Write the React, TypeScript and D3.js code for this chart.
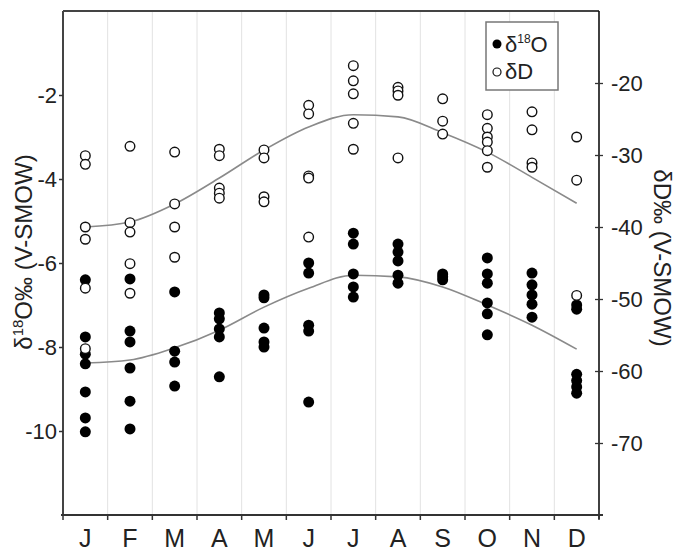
import React, { useEffect, useRef } from 'react';
import * as d3 from 'd3';

// month labels (index used as band key since letters repeat)
const months = ['J', 'F', 'M', 'A', 'M', 'J', 'J', 'A', 'S', 'O', 'N', 'D'];

// d18O values per month (left axis, permil)
const o18Values: number[][] = [
  [-6.4, -7.76, -8.17, -8.4, -9.07, -9.69, -10.02],
  [-6.38, -7.62, -7.88, -8.5, -9.29, -9.95],
  [-6.69, -8.1, -8.36, -8.93],
  [-7.19, -7.33, -7.57, -7.76, -8.71],
  [-6.76, -6.83, -7.55, -7.88, -8.0],
  [-6.0, -6.24, -7.48, -7.62, -9.31],
  [-5.29, -5.55, -6.26, -6.57, -6.81],
  [-5.55, -5.74, -5.95, -6.29, -6.48],
  [-6.26, -6.33, -6.4],
  [-5.88, -6.26, -6.48, -6.95, -7.21, -7.71],
  [-6.24, -6.52, -6.76, -6.98, -7.29],
  [-7.0, -7.1, -8.65, -8.8, -8.95, -9.1],
];

// dD values per month (right axis, permil)
const dDValues: number[][] = [
  [-30.1, -31.3, -40.0, -41.7, -48.5, -56.9],
  [-28.8, -39.4, -40.7, -45.1, -49.2],
  [-29.6, -36.8, -40.0, -44.2],
  [-29.2, -30.1, -34.6, -35.3, -36.0],
  [-29.3, -30.4, -35.8, -36.5],
  [-23.1, -24.3, -32.9, -33.2, -41.4],
  [-17.6, -19.7, -21.5, -25.6, -29.2],
  [-20.6, -21.1, -21.7, -30.4],
  [-22.2, -25.3, -27.1],
  [-24.4, -26.3, -27.5, -28.2, -29.4, -31.7],
  [-24.0, -26.5, -31.1, -31.7],
  [-27.5, -33.5, -49.5],
];

// smoothed seasonal fits
const o18Fit = [-8.38, -8.31, -8.02, -7.6, -7.05, -6.6, -6.29, -6.33, -6.57, -7.0, -7.48, -8.05];
const dDFit = [-40.0, -39.3, -36.8, -33.2, -29.3, -26.1, -24.4, -24.7, -26.9, -29.6, -33.1, -36.7];

const o18Ticks = [-10, -8, -6, -4, -2];
const dDTicks = [-70, -60, -50, -40, -30, -20];

const FONT = '"Liberation Sans", Arial, Helvetica, sans-serif';

export default function App() {
  const ref = useRef<SVGSVGElement>(null);

  useEffect(() => {
    const width = 677;
    const height = 554;
    const margin = { left: 63, right: 78, top: 11, bottom: 39 };
    const x0 = margin.left;
    const x1 = width - margin.right;
    const y0 = margin.top;
    const y1 = height - margin.bottom;

    const svg = d3.select(ref.current);
    svg.selectAll('*').remove();

    const x = d3.scaleBand<number>().domain(d3.range(12)).range([x0, x1]);
    const yL = d3.scaleLinear().domain([-12, 0]).range([y1, y0]);
    const yR = d3.scaleLinear().domain([-80, -10]).range([y1, y0]);
    const cx = (i: number) => (x(i) as number) + x.bandwidth() / 2;

    // vertical grid lines at month boundaries
    const bounds = d3.range(13).map((i) => x0 + i * x.step());
    svg.append('g')
      .selectAll('line')
      .data(bounds.slice(1, -1))
      .enter().append('line')
      .attr('x1', (d) => d).attr('x2', (d) => d)
      .attr('y1', y0).attr('y2', y1)
      .attr('stroke', '#e2e2e2')
      .attr('stroke-width', 1);

    // fit curves
    const lineL = d3.line<number>()
      .x((d, i) => cx(i))
      .y((d) => yL(d))
      .curve(d3.curveMonotoneX);
    const lineR = d3.line<number>()
      .x((d, i) => cx(i))
      .y((d) => yR(d))
      .curve(d3.curveMonotoneX);

    svg.append('path').datum(dDFit)
      .attr('d', lineR)
      .attr('fill', 'none')
      .attr('stroke', '#8a8a8a')
      .attr('stroke-width', 1.6);
    svg.append('path').datum(o18Fit)
      .attr('d', lineL)
      .attr('fill', 'none')
      .attr('stroke', '#8a8a8a')
      .attr('stroke-width', 1.6);

    // filled d18O points
    const o18Pts = o18Values.flatMap((vals, i) => vals.map((v) => ({ m: i, v })));
    svg.append('g')
      .selectAll('circle')
      .data(o18Pts)
      .enter().append('circle')
      .attr('cx', (d) => cx(d.m))
      .attr('cy', (d) => yL(d.v))
      .attr('r', 5.5)
      .attr('fill', '#000');

    // open dD points
    const dDPts = dDValues.flatMap((vals, i) => vals.map((v) => ({ m: i, v })));
    svg.append('g')
      .selectAll('circle')
      .data(dDPts)
      .enter().append('circle')
      .attr('cx', (d) => cx(d.m))
      .attr('cy', (d) => yR(d.v))
      .attr('r', 4.8)
      .attr('fill', '#fff')
      .attr('stroke', '#111')
      .attr('stroke-width', 1.4);

    // frame
    svg.append('line').attr('x1', x0).attr('x2', x1).attr('y1', y0).attr('y2', y0)
      .attr('stroke', '#444').attr('stroke-width', 2);
    svg.append('line').attr('x1', x0).attr('x2', x0).attr('y1', y0).attr('y2', y1)
      .attr('stroke', '#444').attr('stroke-width', 2);
    svg.append('line').attr('x1', x1).attr('x2', x1).attr('y1', y0).attr('y2', y1 + 4)
      .attr('stroke', '#111').attr('stroke-width', 1.6);
    svg.append('line').attr('x1', x0 - 2).attr('x2', x1 + 4).attr('y1', y1).attr('y2', y1)
      .attr('stroke', '#333').attr('stroke-width', 2);

    // bottom ticks and month labels
    svg.append('g')
      .selectAll('line')
      .data(bounds)
      .enter().append('line')
      .attr('x1', (d) => d).attr('x2', (d) => d)
      .attr('y1', y1).attr('y2', y1 + 5)
      .attr('stroke', '#333').attr('stroke-width', 1.5);
    svg.append('g')
      .selectAll('text')
      .data(months)
      .enter().append('text')
      .attr('x', (d, i) => cx(i))
      .attr('y', 547)
      .attr('text-anchor', 'middle')
      .attr('font-family', FONT)
      .attr('font-size', 25)
      .attr('fill', '#222')
      .text((d) => d);

    // left axis
    const leftAxis = d3.axisLeft(yL)
      .tickValues(o18Ticks)
      .tickSize(4)
      .tickPadding(2)
      .tickFormat((d) => String(d));
    const gL = svg.append('g').attr('transform', `translate(${x0},0)`).call(leftAxis);
    gL.select('.domain').remove();
    gL.selectAll('.tick line').attr('stroke', '#333').attr('stroke-width', 1.5);
    gL.selectAll('.tick text')
      .attr('font-family', FONT).attr('font-size', 22).attr('fill', '#222');

    // right axis
    const rightAxis = d3.axisRight(yR)
      .tickValues(dDTicks)
      .tickSize(4)
      .tickPadding(8)
      .tickFormat((d) => String(d));
    const gR = svg.append('g').attr('transform', `translate(${x1},0)`).call(rightAxis);
    gR.select('.domain').remove();
    gR.selectAll('.tick line').attr('x1', -4).attr('x2', 4)
      .attr('stroke', '#333').attr('stroke-width', 1.3);
    gR.selectAll('.tick text')
      .attr('font-family', FONT).attr('font-size', 22).attr('fill', '#222');

    // axis titles
    const tL = svg.append('text')
      .attr('transform', 'translate(32,252) rotate(-90)')
      .attr('text-anchor', 'middle')
      .attr('font-family', FONT)
      .attr('font-size', 24)
      .attr('fill', '#222');
    tL.append('tspan').text('δ');
    tL.append('tspan').attr('font-size', 15).attr('dy', -9).text('18');
    tL.append('tspan').attr('dy', 9).text('O‰ (V-SMOW)');

    svg.append('text')
      .attr('transform', 'translate(654,258) rotate(90)')
      .attr('text-anchor', 'middle')
      .attr('font-family', FONT)
      .attr('font-size', 24)
      .attr('fill', '#222')
      .text('δD‰ (V-SMOW)');

    // legend
    const lg = svg.append('g');
    lg.append('rect')
      .attr('x', 486).attr('y', 22).attr('width', 72).attr('height', 68)
      .attr('fill', '#fff').attr('stroke', '#777').attr('stroke-width', 1.5);
    lg.append('circle').attr('cx', 497).attr('cy', 44).attr('r', 4.5).attr('fill', '#000');
    lg.append('circle').attr('cx', 497).attr('cy', 72).attr('r', 4)
      .attr('fill', '#fff').attr('stroke', '#111').attr('stroke-width', 1.2);
    const l1 = lg.append('text').attr('x', 505).attr('y', 52)
      .attr('font-family', FONT).attr('font-size', 22).attr('fill', '#222');
    l1.append('tspan').text('δ');
    l1.append('tspan').attr('font-size', 12).attr('dy', -9).text('18');
    l1.append('tspan').attr('dy', 9).text('O');
    lg.append('text').attr('x', 505).attr('y', 79)
      .attr('font-family', FONT).attr('font-size', 22).attr('fill', '#222')
      .text('δD');
  }, []);

  return (
    <svg ref={ref} width={677} height={554}
      style={{ position: 'absolute', left: 0, top: 0, background: '#fff' }} />
  );
}
